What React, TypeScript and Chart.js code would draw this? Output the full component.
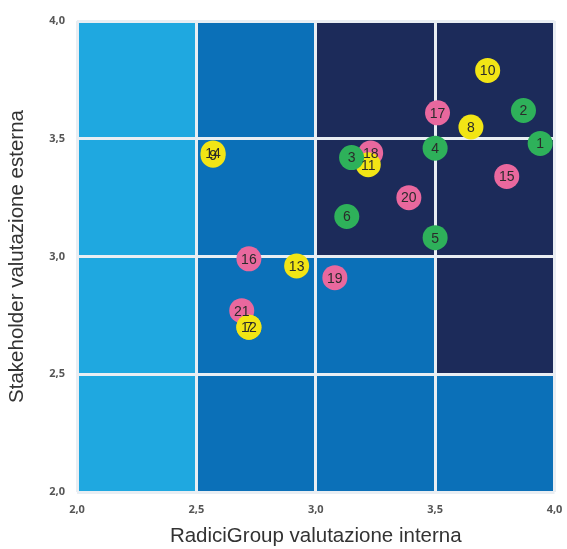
import React, { useEffect, useRef } from "react";
import { Chart, registerables } from "chart.js";

Chart.register(...registerables);

const xTicks = [2.0, 2.5, 3.0, 3.5, 4.0];
const yTicks = [2.0, 2.5, 3.0, 3.5, 4.0];

const greenLabels = ["1", "2", "3", "4", "5", "6"];
const greenX = [3.94, 3.87, 3.15, 3.5, 3.5, 3.13];
const greenY = [3.48, 3.62, 3.42, 3.46, 3.08, 3.17];

const yellowLabels = ["7", "8", "9", "10", "11", "12", "13", "14"];
const yellowX = [2.72, 3.65, 2.57, 3.72, 3.22, 2.72, 2.92, 2.57];
const yellowY = [2.7, 3.55, 3.43, 3.79, 3.39, 2.7, 2.96, 3.44];

const pinkLabels = ["15", "16", "17", "18", "19", "20", "21"];
const pinkX = [3.8, 2.72, 3.51, 3.23, 3.08, 3.39, 2.69];
const pinkY = [3.34, 2.99, 3.61, 3.44, 2.91, 3.25, 2.77];

// cell colours, rows from bottom (2.0-2.5) to top (3.5-4.0), columns left to right
const L = "#1fa8e0";
const M = "#0b70b8";
const D = "#1c2b5a";
const cellRows = [
  [L, M, M, M],
  [L, M, M, D],
  [L, M, D, D],
  [L, M, D, D],
];

const GREEN = "#2eb15a";
const YELLOW = "#f2e515";
const PINK = "#e9689e";

const cellsPlugin = {
  id: "cells",
  beforeDraw(chart: any) {
    const { ctx, scales } = chart;
    const xs = scales.x;
    const ys = scales.y;
    ctx.save();
    for (let r = 0; r < cellRows.length; r++) {
      for (let c = 0; c < cellRows[r].length; c++) {
        const x0 = xs.getPixelForValue(xTicks[c]);
        const x1 = xs.getPixelForValue(xTicks[c + 1]);
        const y0 = ys.getPixelForValue(yTicks[r + 1]);
        const y1 = ys.getPixelForValue(yTicks[r]);
        ctx.fillStyle = cellRows[r][c];
        ctx.fillRect(x0, y0, x1 - x0, y1 - y0);
      }
    }
    ctx.restore();
  },
};

const labelsPlugin = {
  id: "pointLabels",
  afterDatasetsDraw(chart: any) {
    const { ctx } = chart;
    ctx.save();
    ctx.font = '14px "Liberation Sans", Arial, sans-serif';
    ctx.fillStyle = "#2b2b2b";
    ctx.textAlign = "center";
    ctx.textBaseline = "middle";
    chart.data.datasets.forEach((ds: any, i: number) => {
      const meta = chart.getDatasetMeta(i);
      meta.data.forEach((el: any, j: number) => {
        ctx.fillText(ds.labels[j], el.x, el.y + 1);
      });
    });
    ctx.restore();
  },
};

function toPoints(xs: number[], ys: number[]) {
  return xs.map((x, i) => ({ x, y: ys[i] }));
}

export default function App() {
  const ref = useRef<HTMLCanvasElement | null>(null);
  useEffect(() => {
    if (!ref.current) return;
    const fmt = (v: any) => Number(v).toFixed(1).replace(".", ",");
    const chart = new Chart(ref.current, {
      type: "scatter",
      data: {
        datasets: [
          { labels: greenLabels, data: toPoints(greenX, greenY), backgroundColor: GREEN },
          { labels: yellowLabels, data: toPoints(yellowX, yellowY), backgroundColor: YELLOW },
          { labels: pinkLabels, data: toPoints(pinkX, pinkY), backgroundColor: PINK },
        ] as any,
      },
      options: {
        animation: false,
        responsive: false,
        events: [],
        layout: { padding: { left: 0, right: 0, top: 21, bottom: 0 } },
        elements: { point: { radius: 12.5, borderWidth: 0, pointStyle: "circle" } },
        plugins: { legend: { display: false }, tooltip: { enabled: false } },
        scales: {
          x: {
            type: "linear",
            min: 2,
            max: 4,
            afterFit(scale: any) {
              scale.height = 57;
              scale.paddingRight = 10;
              scale.paddingLeft = 0;
            },
            afterBuildTicks(scale: any) {
              scale.ticks = xTicks.map((v) => ({ value: v }));
            },
            grid: { color: "#e9eef3", lineWidth: 3, drawTicks: false },
            border: { display: false },
            ticks: {
              padding: 11,
              color: "#555555",
              font: { family: '"Open Sans", Arial, sans-serif', size: 11, weight: "bold" },
              callback: fmt,
            },
            title: {
              display: true,
              text: "RadiciGroup valutazione interna",
              color: "#333333",
              font: { family: '"Liberation Sans", Arial, sans-serif', size: 20.5 },
              padding: { top: 0, bottom: 0 },
            },
          },
          y: {
            type: "linear",
            min: 2,
            max: 4,
            afterFit(scale: any) {
              scale.width = 77;
            },
            afterBuildTicks(scale: any) {
              scale.ticks = yTicks.map((v) => ({ value: v }));
            },
            grid: { color: "#e9eef3", lineWidth: 3, drawTicks: false },
            border: { display: false },
            ticks: {
              padding: 12,
              color: "#555555",
              font: { family: '"Open Sans", Arial, sans-serif', size: 11, weight: "bold" },
              callback: fmt,
            },
            title: {
              display: true,
              text: "Stakeholder valutazione esterna",
              color: "#333333",
              font: { family: '"Liberation Sans", Arial, sans-serif', size: 20.5 },
              padding: { top: 5, bottom: 0 },
            },
          },
        },
      } as any,
      plugins: [cellsPlugin, labelsPlugin],
    });
    return () => chart.destroy();
  }, []);
  return (
    <div style={{ position: "fixed", left: 0, top: 0, width: 567, height: 549, background: "#ffffff" }}>
      <canvas ref={ref} width={567} height={549} style={{ display: "block", width: 567, height: 549 }} />
    </div>
  );
}
